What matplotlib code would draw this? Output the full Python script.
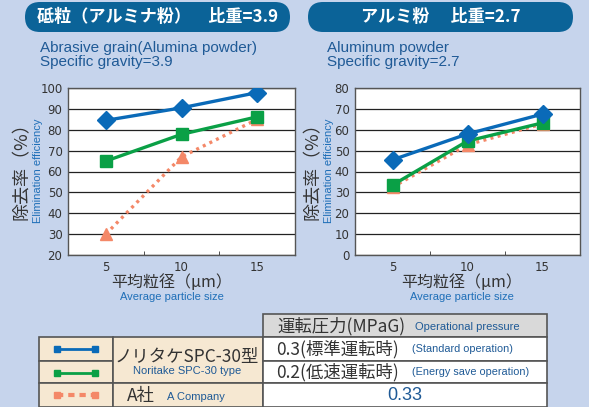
import matplotlib
matplotlib.use('Agg')
import matplotlib.pyplot as plt
from matplotlib.patches import FancyBboxPatch, Rectangle

JP = ['Noto Sans CJK JP', 'DejaVu Sans']
EN = ['Liberation Sans', 'DejaVu Sans']

# particle sizes (um) and removal efficiency (%)
sizes = ['5', '10', '15']
alumina_std = [84.5, 90.5, 97.8]
alumina_eco = [65.0, 77.8, 86.2]
alumina_a = [30.0, 67.0, 85.0]
aluminum_std = [45.6, 58.0, 67.5]
aluminum_eco = [33.5, 54.6, 63.3]
aluminum_a = [32.5, 52.8, 62.8]

alumina_ticks = [20, 30, 40, 50, 60, 70, 80, 90, 100]
aluminum_ticks = [0, 10, 20, 30, 40, 50, 60, 70, 80]

BLUE = '#0a6ab8'
GREEN = '#0aa046'
ORANGE = '#f48868'
PILL = '#0b6398'
TXT_BLUE = '#1f5a96'
BG = '#c6d4ec'

W, H = 589, 407
fig = plt.figure(figsize=(W / 100, H / 100), dpi=100, facecolor=BG)

# pixel-space canvas for the boxes, labels and the table
bg = fig.add_axes([0, 0, 1, 1])
bg.set_xlim(0, W)
bg.set_ylim(H, 0)
bg.axis('off')


def ax_at(x0, y0, x1, y1):
    return fig.add_axes([x0 / W, 1 - y1 / H, (x1 - x0) / W, (y1 - y0) / H])


def pill(x0, x1, text):
    bg.add_patch(FancyBboxPatch((x0, 2), x1 - x0, 30,
                                boxstyle='round,pad=0,rounding_size=15',
                                fc=PILL, ec='none'))
    bg.text((x0 + x1) / 2, 17, text, color='white', fontsize=12.3,
            fontweight='bold', family=JP, ha='center', va='center')


pill(25, 290, '砥粒（アルミナ粉）　比重=3.9')
pill(308, 573, 'アルミ粉　 比重=2.7')

bg.text(40, 55, 'Abrasive grain(Alumina powder)\nSpecific gravity=3.9',
        color=TXT_BLUE, fontsize=11, family=EN, va='center', linespacing=1.0)
bg.text(327, 55, 'Aluminum powder\nSpecific gravity=2.7',
        color=TXT_BLUE, fontsize=11, family=EN, va='center', linespacing=1.0)


def panel(box, std, eco, a, ticks, ylab_x, xlab_x):
    ax = ax_at(*box)
    x = range(len(sizes))
    ax.plot(x, a, color=ORANGE, lw=2.4, ls=(0, (0.9, 1.3)), marker='^',
            ms=9, mec=ORANGE, zorder=3)
    ax.plot(x, eco, color=GREEN, lw=2.4, marker='s', ms=8, zorder=4)
    ax.plot(x, std, color=BLUE, lw=2.4, marker='D', ms=9, zorder=5)
    ax.set_xlim(-0.5, 2.5)
    ax.set_ylim(ticks[0], ticks[-1])
    ax.set_yticks(ticks)
    ax.set_xticks(list(x))
    ax.set_xticklabels(sizes)
    ax.set_xticks([0.5, 1.5], minor=True)
    ax.tick_params(axis='both', which='major', length=0, labelsize=8.5,
                   colors='#333333', pad=4)
    ax.tick_params(axis='x', which='minor', direction='in', length=3,
                   color='#333333')
    ax.grid(axis='y', color='#222222', lw=0.9)
    ax.set_axisbelow(True)
    for s in ax.spines.values():
        s.set_color('#555555')
        s.set_linewidth(1)
    bg.text(ylab_x, 167, '除去率（%）', rotation=90, fontsize=13, family=JP,
            color='#333333', ha='center', va='center')
    bg.text(ylab_x + 16, 171, 'Elimination efficiency', rotation=90,
            fontsize=8, family=EN, color='#1f6fb8', ha='center', va='center')
    bg.text(xlab_x, 282, '平均粒径（μm）', fontsize=11.5, family=JP,
            color='#333333', ha='center', va='center')
    bg.text(xlab_x, 297, 'Average particle size', fontsize=8, family=EN,
            color='#1f6fb8', ha='center', va='center')


panel((68, 88, 295, 255), alumina_std, alumina_eco, alumina_a,
      alumina_ticks, 22, 172)
panel((355, 88, 580, 255), aluminum_std, aluminum_eco, aluminum_a,
      aluminum_ticks, 313, 462)

# legend table
EDGE = '#555555'
BEIGE = '#f6e8d2'


def cell(x0, y0, x1, y1, fc):
    bg.add_patch(Rectangle((x0, y0), x1 - x0, y1 - y0, fc=fc, ec=EDGE,
                           lw=1.2))


cell(263, 314, 547, 337, '#d9d9d9')
cell(39, 337, 113, 361, BEIGE)
cell(39, 361, 113, 383, BEIGE)
cell(39, 383, 113, 407, BEIGE)
cell(113, 337, 263, 383, BEIGE)
cell(113, 383, 263, 407, BEIGE)
cell(263, 337, 547, 361, 'white')
cell(263, 361, 547, 383, 'white')
cell(263, 383, 547, 407, 'white')

bg.plot([57, 95], [349, 349], color=BLUE, lw=2, marker='s', ms=4.5,
        solid_capstyle='butt')
bg.plot([57, 95], [373, 373], color=GREEN, lw=2, marker='s', ms=4.5,
        solid_capstyle='butt')
bg.plot([57, 95], [395, 395], color=ORANGE, lw=3, marker='s', ms=4.5,
        ls=(0, (1.5, 1.2)), dash_capstyle='butt')

bg.text(187, 357, 'ノリタケSPC-30型', fontsize=12.5, family=JP, color='#333333',
        ha='center', va='center')
bg.text(187, 371, 'Noritake SPC-30 type', fontsize=8, family=EN,
        color=TXT_BLUE, ha='center', va='center')
bg.text(127, 396, 'A社', fontsize=12.5, family=JP, color='#333333',
        va='center')
bg.text(167, 397, 'A Company', fontsize=8, family=EN, color=TXT_BLUE,
        va='center')

bg.text(277, 326, '運転圧力(MPaG)', fontsize=12.5, family=JP, color='#333333',
        va='center')
bg.text(415, 327, 'Operational pressure', fontsize=8, family=EN,
        color=TXT_BLUE, va='center')
bg.text(276, 349, '0.3(標準運転時)', fontsize=12.5, family=JP, color='#333333',
        va='center')
bg.text(412, 349, '(Standard operation)', fontsize=7.8, family=EN,
        color=TXT_BLUE, va='center')
bg.text(276, 372, '0.2(低速運転時)', fontsize=12.5, family=JP, color='#333333',
        va='center')
bg.text(412, 372, '(Energy save operation)', fontsize=7.8, family=EN,
        color=TXT_BLUE, va='center')
bg.text(405, 396, '0.33', fontsize=13, family=EN, color=TXT_BLUE,
        ha='center', va='center')

fig.savefig('out.png', dpi=100, facecolor=BG)
